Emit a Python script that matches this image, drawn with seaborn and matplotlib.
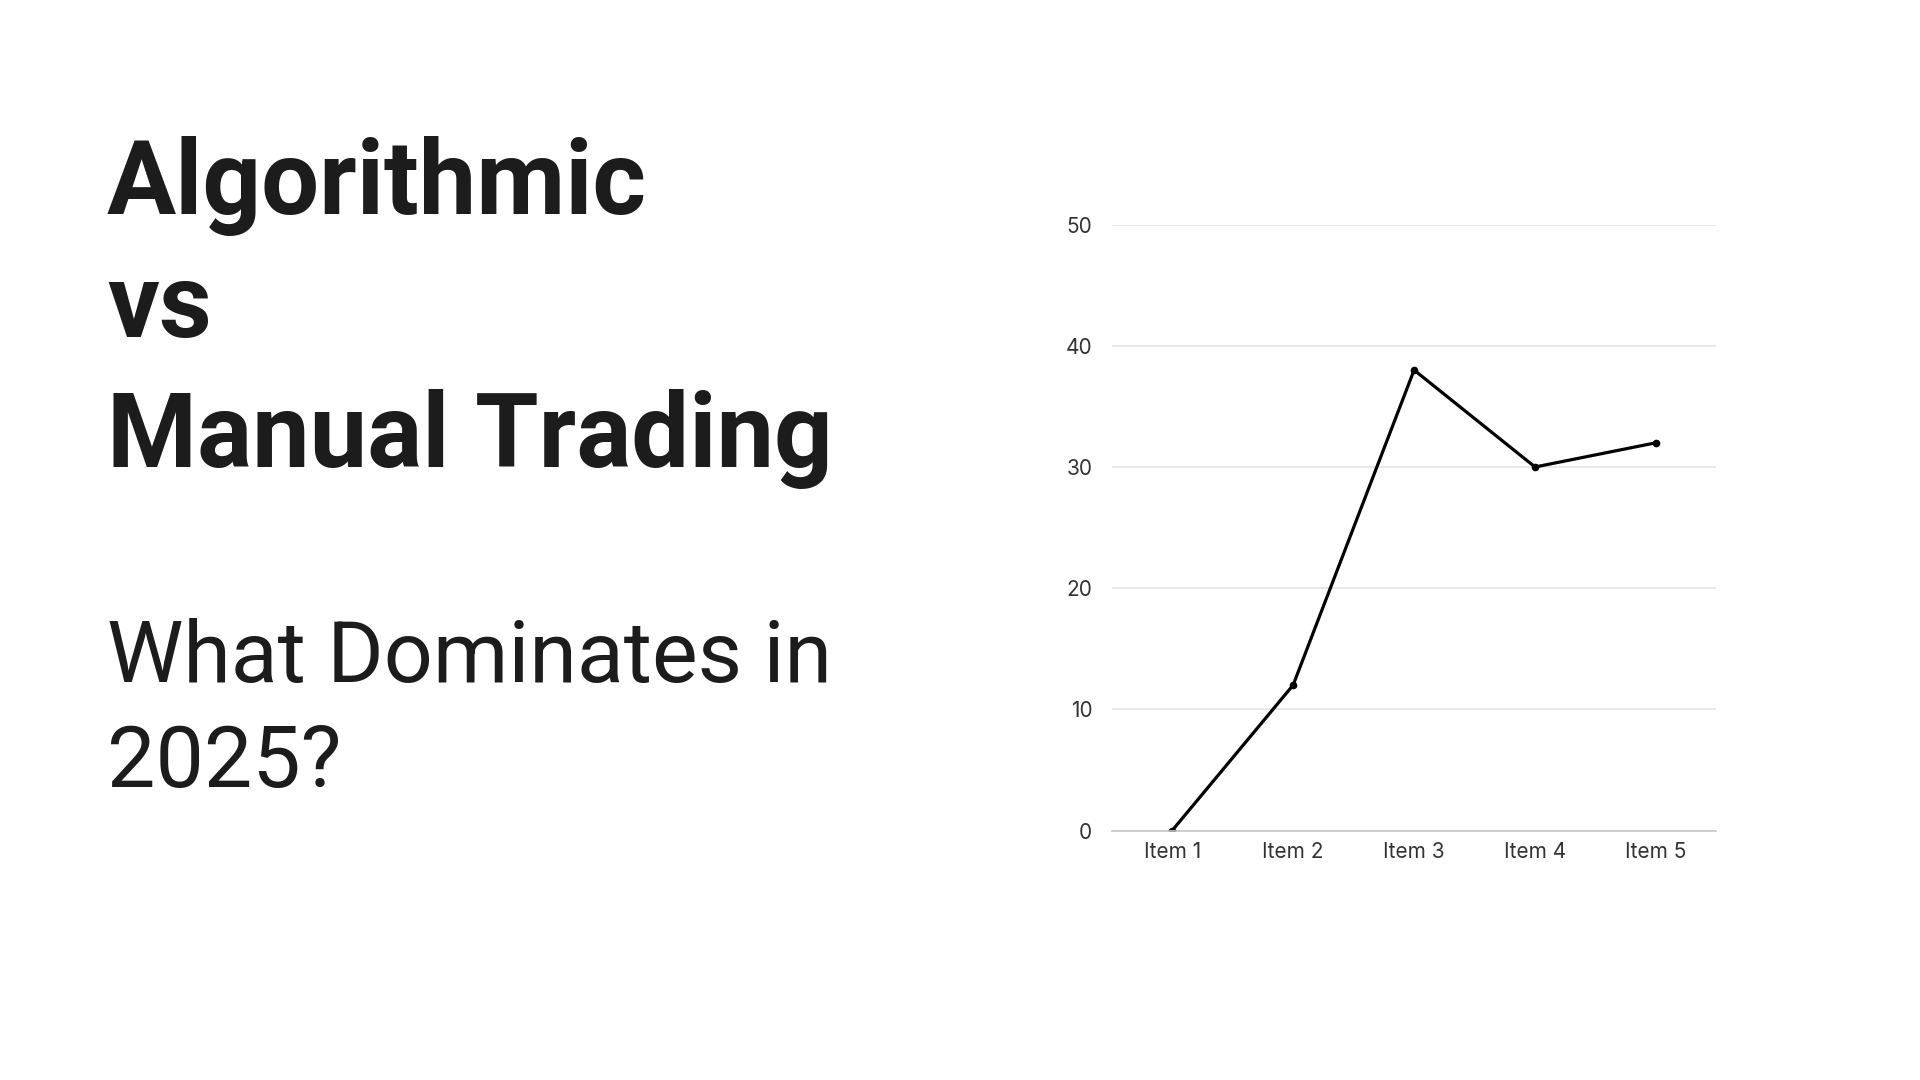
import matplotlib
matplotlib.use("Agg")
import matplotlib.pyplot as plt
import seaborn as sns
import pandas as pd

categories = ["Item 1", "Item 2", "Item 3", "Item 4", "Item 5"]
values = [0, 12, 38, 30, 32]
yticks = [0, 10, 20, 30, 40, 50]

title_lines = ["Algorithmic", "vs", "Manual Trading"]
subtitle_lines = ["What Dominates in", "2025?"]

sns.set_theme(style="white")
plt.rcParams["font.family"] = ["Inter", "DejaVu Sans"]

fig = plt.figure(figsize=(19.2, 10.8), dpi=100)
fig.patch.set_facecolor("white")

ax = fig.add_axes([0.579, 0.231, 0.315, 0.561])
df = pd.DataFrame({"cat": categories, "val": values})
sns.lineplot(data=df, x="cat", y="val", ax=ax, color="black", linewidth=2.3,
             marker="o", markersize=5.5, markeredgewidth=0, sort=False)

ax.set_xlim(-0.5, len(categories) - 0.5)
ax.set_ylim(0, 50)
ax.set_yticks(yticks)
ax.set_xlabel("")
ax.set_ylabel("")
ax.grid(axis="y", color="#e2e2e2", linewidth=1.1)
ax.grid(axis="x", visible=False)
ax.set_axisbelow(True)
for s in ["top", "right", "left"]:
    ax.spines[s].set_visible(False)
ax.spines["bottom"].set_color("#c6c6c6")
ax.spines["bottom"].set_linewidth(1.2)
ax.tick_params(axis="both", length=0, labelsize=15, colors="#333333")
ax.tick_params(axis="y", pad=14)
ax.tick_params(axis="x", pad=8)

tfam = ["Roboto", "DejaVu Sans"]
x0 = 107 / 1920
title_baselines = [214, 337, 467]
for txt, yb in zip(title_lines, title_baselines):
    fig.text(x0, 1 - yb / 1080, txt, fontsize=74, fontweight="bold",
             family=tfam, color="#1c1c1c", ha="left", va="baseline")

sub_baselines = [682, 787]
for txt, yb in zip(subtitle_lines, sub_baselines):
    fig.text(x0, 1 - yb / 1080, txt, fontsize=62, fontweight="normal",
             family=tfam, color="#1c1c1c", ha="left", va="baseline")

fig.savefig("out.png", dpi=100, facecolor="white")
